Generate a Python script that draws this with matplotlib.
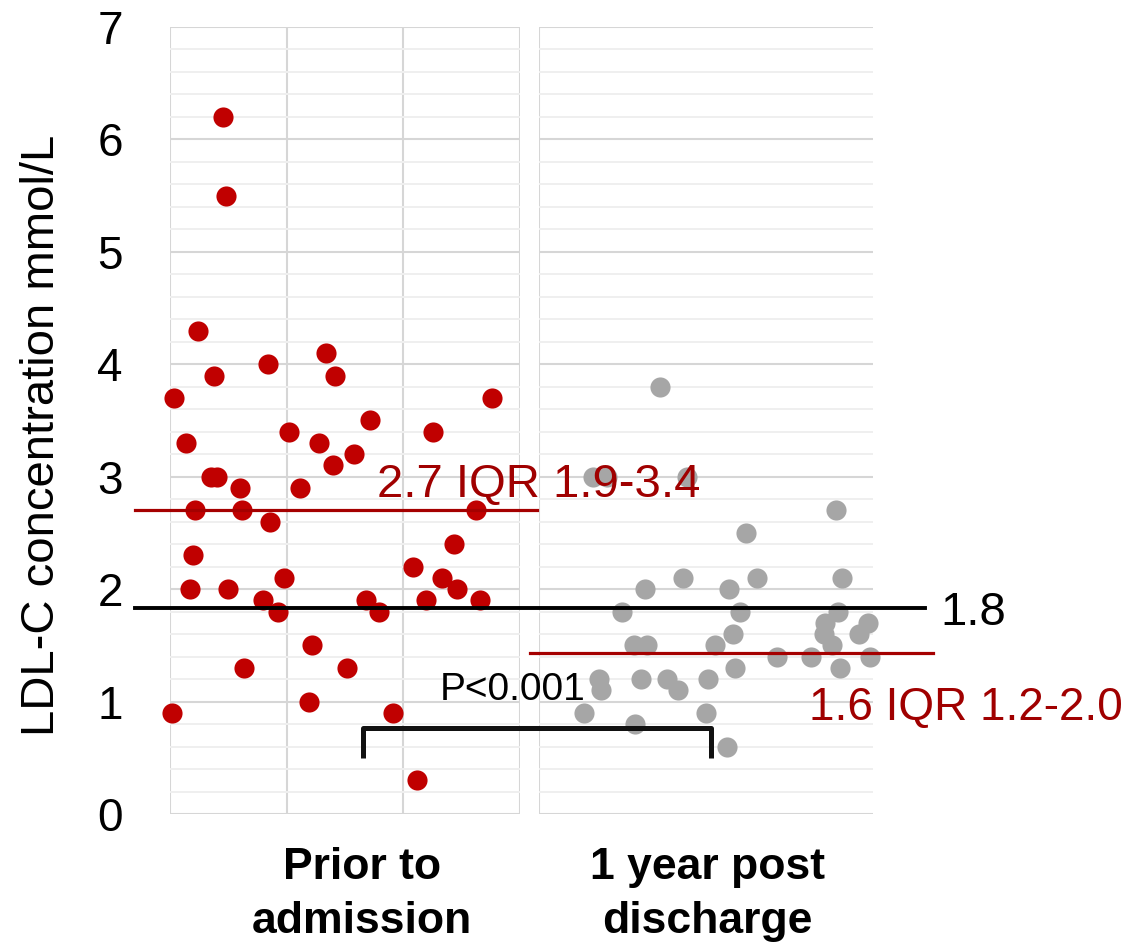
import matplotlib
matplotlib.use("Agg")

import matplotlib.pyplot as plt
from matplotlib.transforms import blended_transform_factory
import numpy as np

plt.rcParams["font.family"] = ["Liberation Sans", "DejaVu Sans"]

# LDL-C values (mmol/L)
prior_vals = [6.2, 5.5, 4.3, 3.9, 4.0, 4.1, 3.9, 3.7, 3.7, 3.5,
              3.3, 3.4, 3.3, 3.4, 3.1, 3.2, 3.0, 3.0, 2.9, 2.9,
              2.7, 2.7, 2.7, 2.6, 2.4, 2.3, 2.2, 2.0, 2.0, 2.1,
              2.1, 2.0, 1.9, 1.8, 1.9, 1.8, 1.9, 1.9, 1.5, 1.3,
              1.3, 1.0, 0.9, 0.9, 0.3]
# horizontal jitter of each dot inside its panel (0..3)
prior_jitter = [0.458, 0.479, 0.238, 0.378, 0.839, 1.340, 1.420, 0.037, 2.764, 1.718,
                0.137, 1.020, 1.280, 2.259, 1.398, 1.581, 0.352, 0.401, 0.599, 1.117,
                0.217, 0.619, 2.623, 0.859, 2.440, 0.198, 2.082, 0.174, 0.496, 0.979,
                2.339, 2.463, 0.799, 0.928, 1.681, 1.798, 2.199, 2.661, 1.217, 0.638,
                1.521, 1.197, 0.015, 1.918, 2.119]

post_vals = [3.8, 3.0, 3.0, 3.0, 2.7, 2.5, 2.1, 2.1, 2.1, 2.0,
             2.0, 1.8, 1.8, 1.8, 1.7, 1.7, 1.6, 1.6, 1.6, 1.5,
             1.5, 1.5, 1.5, 1.4, 1.4, 1.4, 1.3, 1.3, 1.2, 1.1,
             1.2, 1.2, 1.2, 1.1, 0.9, 0.9, 0.8, 0.6]
post_jitter = [1.086, 0.482, 0.613, 1.326, 2.666, 1.858, 1.293, 1.954, 2.720, 0.954,
               1.706, 0.748, 1.802, 2.678, 2.567, 2.947, 2.552, 2.873, 1.744, 0.853,
               0.972, 1.574, 2.624, 2.136, 2.439, 2.965, 1.762, 2.702, 0.541, 0.554,
               0.916, 1.146, 1.517, 1.250, 0.407, 1.499, 0.862, 1.685]

categories = ["Prior to\nadmission", "1 year post\ndischarge"]
median_levels = [2.7, 1.43]          # red lines as drawn
median_labels = ["2.7 IQR 1.9-3.4", "1.6 IQR 1.2-2.0"]
target_level = 1.83                  # black target line
target_label = "1.8"
p_label = "P<0.001"
yticks = [0, 1, 2, 3, 4, 5, 6, 7]

RED = "#C00000"
DARK_RED = "#A00000"
GREY = "#A6A6A6"

W, H = 1132, 947
fig = plt.figure(figsize=(W / 100, H / 100), dpi=100)


def box(x0, x1, y0, y1):
    return [x0 / W, 1 - y1 / H, (x1 - x0) / W, (y1 - y0) / H]


ax1 = fig.add_axes(box(170, 519.5, 27, 814))
ax2 = fig.add_axes(box(539, 873.5, 27, 814), sharey=ax1)

for ax, xt in ((ax1, [0, 1, 2, 3]), (ax2, [0])):
    ax.set_xlim(0, 3)
    ax.set_ylim(0, 7)
    ax.set_xticks(xt)
    ax.set_yticks(yticks)
    ax.set_yticks(np.arange(0, 7.01, 0.2), minor=True)
    ax.grid(True, which="major", color="#D6D6D6", linewidth=1.5)
    ax.grid(True, which="minor", axis="y", color="#EFEFEF", linewidth=1.4)
    ax.set_axisbelow(True)
    for s in ax.spines.values():
        s.set_visible(False)
    ax.tick_params(which="both", length=0, labelbottom=False)

ax1.tick_params(axis="y", labelsize=33, pad=34)
ax2.tick_params(axis="y", labelleft=False)

ax1.scatter(prior_jitter, prior_vals, s=210, color=RED, linewidths=0, zorder=3, clip_on=False)
ax2.scatter(post_jitter, post_vals, s=210, color=GREY, linewidths=0, zorder=3, clip_on=False)

# overlay for lines and notes that cross both panels
ov = fig.add_axes([0, 0, 1, 1])
ov.set_xlim(0, W)
ov.set_ylim(H, 0)
ov.axis("off")
ov.patch.set_alpha(0)
tr = blended_transform_factory(ov.transData, ax1.transData)

ov.plot([135, 537], [median_levels[0]] * 2, color="#A50000", lw=2.3, transform=tr)
ov.plot([530, 933], [median_levels[1]] * 2, color="#A50000", lw=2.3, transform=tr)
ov.plot([135, 925], [target_level] * 2, color="black", lw=2.8, transform=tr)

ov.text(377, 2.818, median_labels[0], color=DARK_RED, fontsize=34,
        ha="left", va="baseline", transform=tr)
ov.text(809, 0.835, median_labels[1], color=DARK_RED, fontsize=33,
        ha="left", va="baseline", transform=tr)
ov.text(940, 1.68, target_label, color="black", fontsize=34,
        ha="left", va="baseline", transform=tr)
ov.text(440, 1.013, p_label, color="black", fontsize=28,
        ha="left", va="baseline", transform=tr)

# bracket between the two groups
ov.plot([363, 363, 711, 711], [0.50, 0.763, 0.763, 0.50], color="#111111",
        lw=3.6, solid_joinstyle="round", solid_capstyle="butt", transform=tr)

ov.text(362, 847, categories[0], ha="center", va="top", fontsize=32,
        fontweight="bold", linespacing=1.42)
ov.text(707, 847, categories[1], ha="center", va="top", fontsize=32,
        fontweight="bold", linespacing=1.42)

fig.text(42 / W, 1 - 435 / H, "LDL-C concentration mmol/L", rotation=90,
         ha="center", va="center", fontsize=34)

fig.savefig("out.png", dpi=100)
plt.close(fig)
